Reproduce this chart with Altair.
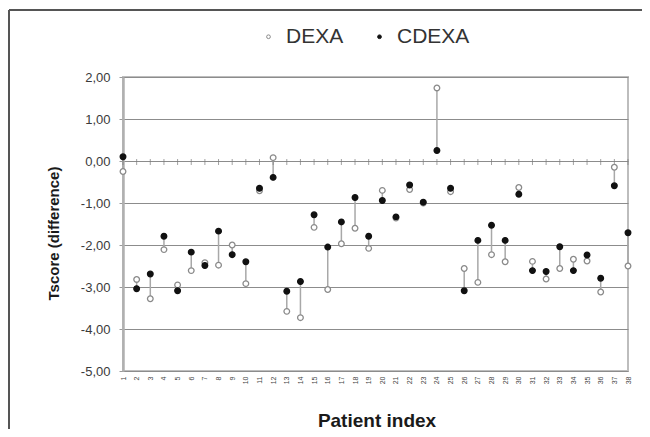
import altair as alt
import pandas as pd

patients = list(range(1, 39))
dexa = [-0.25, -2.82, -3.28, -2.11, -2.95, -2.61, -2.42, -2.48, -2.00, -2.92,
        -0.71, 0.08, -3.58, -3.73, -1.58, -3.06, -1.97, -1.60, -2.08, -0.70,
        -1.36, -0.68, -1.00, 1.74, -0.73, -2.56, -2.89, -2.23, -2.40, -0.63,
        -2.39, -2.81, -2.56, -2.34, -2.38, -3.12, -0.15, -2.50]
cdexa = [0.10, -3.04, -2.69, -1.79, -3.09, -2.17, -2.49, -1.67, -2.23, -2.40,
         -0.65, -0.39, -3.10, -2.87, -1.28, -2.05, -1.45, -0.87, -1.79, -0.94,
         -1.33, -0.57, -0.98, 0.25, -0.65, -3.09, -1.89, -1.53, -1.89, -0.79,
         -2.61, -2.63, -2.04, -2.61, -2.24, -2.79, -0.59, -1.71]
series_names = ["DEXA", "CDEXA"]
y_ticks = [-5, -4, -3, -2, -1, 0, 1, 2]

W, H = 505, 294
FONT = "Liberation Sans"

wide = pd.DataFrame({"patient": patients, "DEXA": dexa, "CDEXA": cdexa})
long = pd.concat([
    pd.DataFrame({"patient": patients, "value": dexa, "series": "DEXA", "ord": 0}),
    pd.DataFrame({"patient": patients, "value": cdexa, "series": "CDEXA", "ord": 1}),
], ignore_index=True)

xscale = alt.Scale(domain=[1, 38], nice=False, zero=False)
yscale = alt.Scale(domain=[-5, 2], nice=False, zero=False)

x_axis = alt.Axis(values=patients, labelAngle=-90, labelFontSize=7, labelColor="#444",
                  labelFont=FONT, tickSize=0, domain=False, grid=False, labelPadding=5,
                  title="Patient index", titleFont=FONT, titleFontSize=19,
                  titleFontWeight="bold", titleColor="#1a1a1a",
                  titleX=W / 2 + 1, titleY=49, titleBaseline="middle", titleAlign="center",
                  labelFlush=False, labelOverlap=False, labelSeparation=0, labelBound=False)
y_axis = alt.Axis(values=y_ticks, grid=True, gridColor="#8c8c8c", gridWidth=1.2,
                  domainColor="#b0b0b0", domainWidth=2.5, tickColor="#9a9a9a", tickSize=4,
                  labelFontSize=13, labelColor="#3a3a3a", labelFont=FONT, labelPadding=9,
                  labelExpr="(datum.value < 0 ? '-' : '') + replace(format(abs(datum.value), '.2f'), '.', ',')",
                  title="Tscore (difference)", titleFont=FONT, titleFontSize=15,
                  titleFontWeight="bold", titleColor="#1a1a1a", titleAngle=-90,
                  titleX=-70, titleY=156, titleBaseline="middle", titleAlign="center")

X = alt.X("patient:Q", scale=xscale, axis=x_axis)

base = alt.Chart(wide)

connectors = base.mark_rule(color="#a8a8a8", strokeWidth=1.5).encode(
    x=X,
    y=alt.Y("DEXA:Q", scale=yscale, axis=y_axis),
    y2="CDEXA:Q",
)

zero_ticks = base.mark_tick(orient="vertical", color="#7a7a7a", size=6, thickness=1, yOffset=1).encode(
    x=X,
    y=alt.datum(0, scale=yscale, axis=y_axis),
)

leg = alt.Legend(title=None, orient="none", direction="horizontal",
                 legendX=135, legendY=-51, labelFontSize=21,
                 labelFont=FONT, labelColor="#333333", symbolSize=14,
                 symbolStrokeWidth=1, labelOffset=7, columnPadding=25)

points = alt.Chart(long).mark_point(shape="circle", size=32, strokeWidth=1.3,
                                     opacity=1, fillOpacity=1).encode(
    x=X,
    y=alt.Y("value:Q", scale=yscale, axis=y_axis),
    fill=alt.Fill("series:N", scale=alt.Scale(domain=series_names, range=["#ffffff", "#111111"]),
                  legend=leg),
    stroke=alt.Stroke("series:N", scale=alt.Scale(domain=series_names, range=["#8a8a8a", "#111111"]),
                      legend=leg),
    order=alt.Order("ord:Q"),
)

frame_df = pd.DataFrame({"a": [0]})
frame_left = alt.Chart(frame_df).mark_rule(color="#555555", strokeWidth=2).encode(
    x=alt.value(-114), y=alt.value(-67), y2=alt.value(352))
frame_top = alt.Chart(frame_df).mark_rule(color="#555555", strokeWidth=2).encode(
    x=alt.value(-114), x2=alt.value(519), y=alt.value(-67))

chart = alt.layer(connectors, zero_ticks, points, frame_left, frame_top).properties(
    width=W, height=H,
    autosize=alt.AutoSizeParams(type="none"),
    padding={"left": 115, "top": 69, "right": 14, "bottom": 58},
    background="white",
).configure_view(stroke="#bdbdbd", strokeWidth=2).configure_axisX(labelOverlap=False)

chart.save("out.html", embed_options={"renderer": "svg", "actions": False})
